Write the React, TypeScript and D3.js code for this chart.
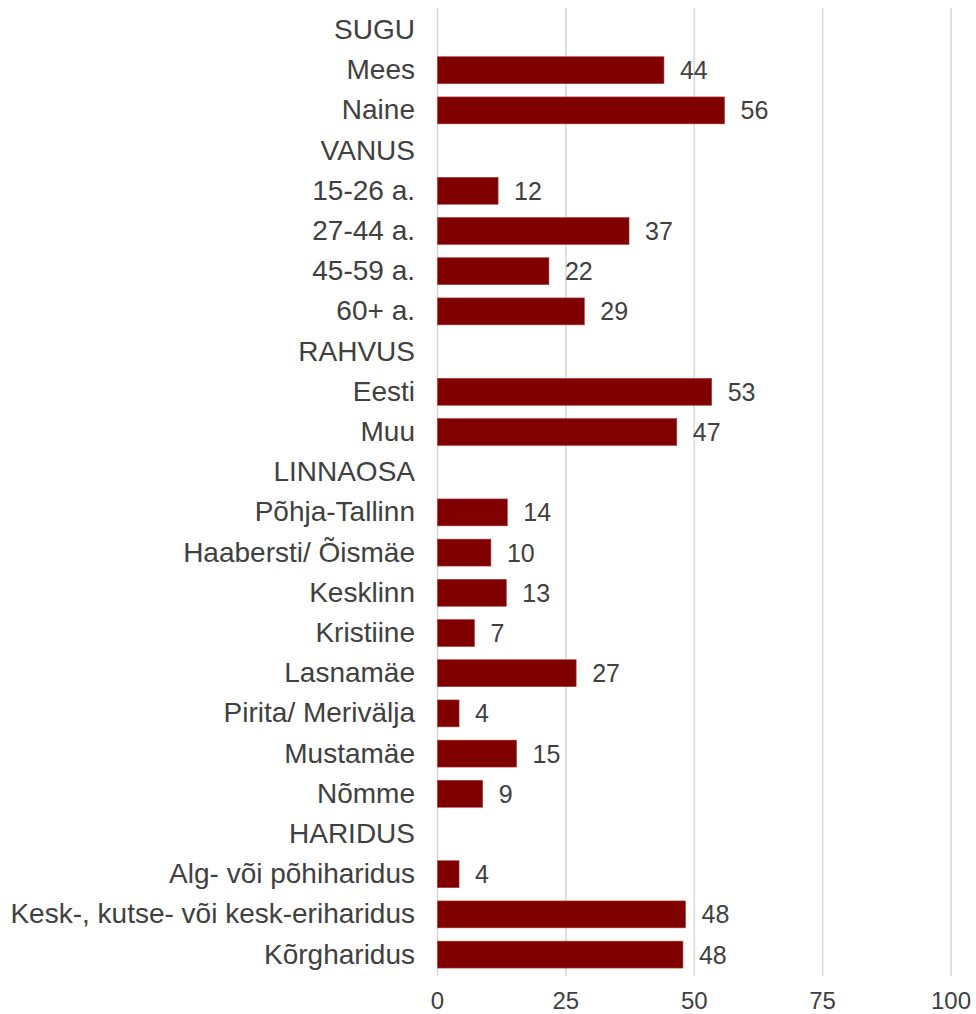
import React, { useEffect, useRef } from 'react'
import * as d3 from 'd3'

// rows top to bottom; null = group heading (no bar)
const categories = [
  'SUGU', 'Mees', 'Naine',
  'VANUS', '15-26 a.', '27-44 a.', '45-59 a.', '60+ a.',
  'RAHVUS', 'Eesti', 'Muu',
  'LINNAOSA', 'Põhja-Tallinn', 'Haabersti/ Õismäe', 'Kesklinn', 'Kristiine',
  'Lasnamäe', 'Pirita/ Merivälja', 'Mustamäe', 'Nõmme',
  'HARIDUS', 'Alg- või põhiharidus', 'Kesk-, kutse- või kesk-eriharidus', 'Kõrgharidus',
]
const values: (number | null)[] = [
  null, 44.1, 55.9,
  null, 11.8, 37.3, 21.7, 28.6,
  null, 53.4, 46.6,
  null, 13.6, 10.4, 13.4, 7.2,
  27.0, 4.2, 15.4, 8.8,
  null, 4.2, 48.3, 47.8,
]
const ticks = [0, 25, 50, 75, 100]

const W = 976
const H = 1014
const FONT = '"Liberation Sans", Arial, Helvetica, sans-serif'
const TEXT = '#404040'

export default function App() {
  const ref = useRef<SVGSVGElement>(null)

  useEffect(() => {
    const svg = d3.select(ref.current)
    svg.selectAll('*').remove()

    const x = d3.scaleLinear().domain([0, 100]).range([437.5, 951])
    const y = d3.scaleBand<string>()
      .domain(categories)
      .range([9.9, 974.7])
      .paddingInner(0.33)
      .paddingOuter(0.165)

    // gridlines
    svg.append('g')
      .selectAll('line')
      .data(ticks)
      .enter()
      .append('line')
      .attr('x1', d => x(d))
      .attr('x2', d => x(d))
      .attr('y1', 8)
      .attr('y2', 976)
      .attr('stroke', '#d9d9d9')
      .attr('stroke-width', 1.6)

    // tick labels
    svg.append('g')
      .selectAll('text')
      .data(ticks)
      .enter()
      .append('text')
      .attr('x', d => x(d))
      .attr('y', 1009)
      .attr('text-anchor', 'middle')
      .attr('font-family', FONT)
      .attr('font-size', 24)
      .attr('fill', TEXT)
      .text(d => d)

    const rows = categories.map((c, i) => ({ c, v: values[i] }))

    // category labels
    svg.append('g')
      .selectAll('text')
      .data(rows)
      .enter()
      .append('text')
      .attr('x', 415)
      .attr('y', d => (y(d.c) as number) + y.bandwidth() / 2)
      .attr('dy', '0.32em')
      .attr('text-anchor', 'end')
      .attr('font-family', FONT)
      .attr('font-size', 28)
      .attr('fill', TEXT)
      .text(d => d.c)

    const bars = rows.filter(d => d.v !== null) as { c: string; v: number }[]

    svg.append('g')
      .selectAll('rect')
      .data(bars)
      .enter()
      .append('rect')
      .attr('x', x(0))
      .attr('y', d => y(d.c) as number)
      .attr('width', d => x(d.v) - x(0))
      .attr('height', y.bandwidth())
      .attr('fill', '#800000')
      .attr('stroke', '#a84040')
      .attr('stroke-width', 0.6)

    svg.append('g')
      .selectAll('text')
      .data(bars)
      .enter()
      .append('text')
      .attr('x', d => x(d.v) + 16)
      .attr('y', d => (y(d.c) as number) + y.bandwidth() / 2)
      .attr('dy', '0.36em')
      .attr('font-family', FONT)
      .attr('font-size', 25)
      .attr('fill', TEXT)
      .text(d => Math.round(d.v))
  }, [])

  return (
    <svg
      ref={ref}
      width={W}
      height={H}
      style={{ position: 'absolute', left: 0, top: 0, background: '#fff' }}
    />
  )
}
